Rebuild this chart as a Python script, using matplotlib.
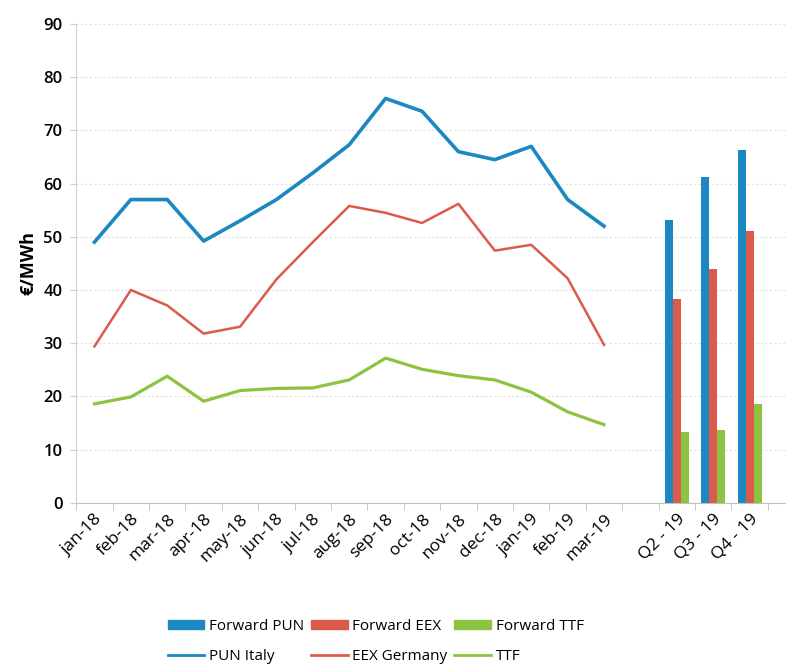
import numpy as np
import matplotlib
matplotlib.use("Agg")
import matplotlib.pyplot as plt
from matplotlib.lines import Line2D
from matplotlib.patches import Patch

# monthly spot prices (€/MWh)
months = ["jan-18", "feb-18", "mar-18", "apr-18", "may-18", "jun-18", "jul-18",
          "aug-18", "sep-18", "oct-18", "nov-18", "dec-18", "jan-19", "feb-19", "mar-19"]
pun_italy = [49, 57, 57, 49.2, 53, 57, 62, 67.3, 76, 73.6, 66, 64.5, 67, 57, 52]
eex_germany = [29.4, 40, 37.1, 31.8, 33.1, 42, 49, 55.8, 54.5, 52.6, 56.2, 47.4, 48.5, 42.2, 29.7]
ttf = [18.6, 19.9, 23.8, 19.1, 21.1, 21.5, 21.6, 23.1, 27.2, 25.1, 23.9, 23.1, 20.8, 17.1, 14.7]

# forward quarters
quarters = ["Q2 - 19", "Q3 - 19", "Q4 - 19"]
fwd_pun = [53.2, 61.2, 66.3]
fwd_eex = [38.4, 44.0, 51.1]
fwd_ttf = [13.4, 13.7, 18.6]

blue = "#1B88C2"
red = "#DC5A4B"
green = "#8CC441"

plt.rcParams['font.family'] = ['Open Sans', 'DejaVu Sans']

fig = plt.figure(figsize=(7.86, 6.66), dpi=100)
ax = fig.add_axes([0.097, 0.245, 0.903, 0.719])

x_m = np.arange(len(months))
x_q = np.arange(len(quarters)) + len(months) + 1

ax.plot(x_m, pun_italy, color=blue, lw=2.6)
ax.plot(x_m, eex_germany, color=red, lw=1.8)
ax.plot(x_m, ttf, color=green, lw=2.3)

w = 0.22
ax.bar(x_q - w, fwd_pun, width=w, color=blue)
ax.bar(x_q, fwd_eex, width=w, color=red)
ax.bar(x_q + w, fwd_ttf, width=w, color=green)

ax.set_ylim(0, 90)
ax.set_xlim(-0.5, 19.0)
ax.set_yticks(range(0, 91, 10))
ax.tick_params(axis="y", labelsize=12, length=4, color="#cccccc", pad=6)
for t in ax.get_yticklabels():
    t.set_fontweight("semibold")
ax.grid(axis="y", color="#e0e0e0", ls=(0, (2, 2)), lw=0.8)
ax.set_axisbelow(True)

all_x = list(x_m) + [len(months)] + list(x_q)
all_lab = months + [""] + quarters
ax.set_xticks(all_x)
ax.set_xticklabels(all_lab, rotation=45, ha="right", rotation_mode="anchor", fontsize=12.5)
ax.tick_params(axis="x", which="major", length=0, pad=6)
ax.set_xticks(np.arange(-0.5, 19.5, 1), minor=True)
ax.tick_params(axis="x", which="minor", length=5, color="#bbbbbb")

for s in ["top", "right"]:
    ax.spines[s].set_visible(False)
ax.spines["left"].set_color("#d0d0d0")
ax.spines["bottom"].set_color("#c0c0c0")

ax.set_ylabel("€/MWh", fontsize=13, fontweight="bold", labelpad=4)

handles = [
    Patch(color=blue), Line2D([], [], color=blue, lw=2),
    Patch(color=red), Line2D([], [], color=red, lw=2),
    Patch(color=green), Line2D([], [], color=green, lw=2),
]
labels = ["Forward PUN", "PUN Italy", "Forward EEX", "EEX Germany", "Forward TTF", "TTF"]
fig.legend(handles, labels, ncol=3, loc="lower left", bbox_to_anchor=(0.196, -0.018),
           frameon=False, fontsize=11, handlelength=2.4, handleheight=0.5,
           columnspacing=0.45, handletextpad=0.3, labelspacing=1.0)

fig.savefig("out.png", dpi=100)
